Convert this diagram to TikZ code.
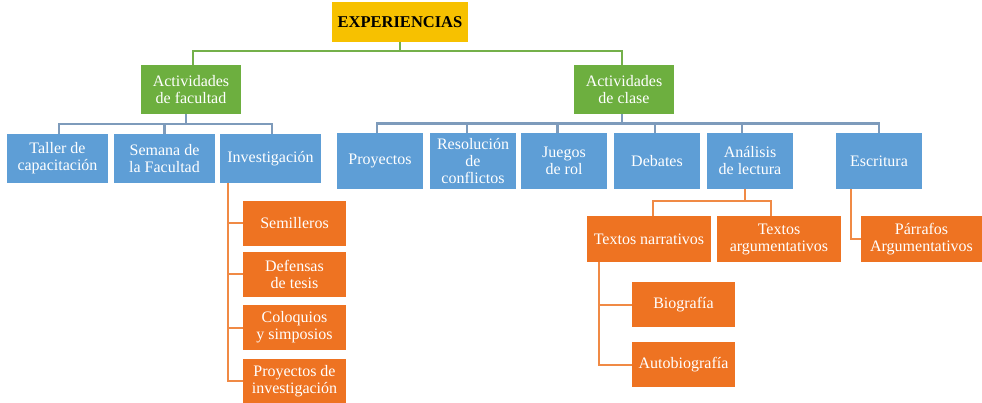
\documentclass[tikz,border=0pt]{standalone}
\usepackage{fontspec}
\setmainfont{Liberation Serif}
\definecolor{cgold}{HTML}{F7C100}
\definecolor{cgreen}{HTML}{6DAF3F}
\definecolor{cblue}{HTML}{5E9ED6}
\definecolor{corange}{HTML}{EE7322}
\definecolor{lgreen}{HTML}{74B04A}
\definecolor{lblue}{HTML}{7E9BBB}
\definecolor{lorange}{HTML}{F08A45}
\begin{document}
\begin{tikzpicture}[x=1pt,y=-1pt,
  bx/.style={rectangle,inner sep=0pt,align=center,text=white,
    font=\fontsize{16}{17}\selectfont},
  gbox/.style={bx,fill=cgreen,minimum width=100pt,minimum height=49pt},
  bbox/.style={bx,fill=cblue},
  obox/.style={bx,fill=corange},
  gline/.style={draw=lgreen,line width=2pt},
  bline/.style={draw=lblue,line width=2.2pt},
  oline/.style={draw=lorange,line width=2pt}]
\useasboundingbox (0,0) rectangle (982,403);
% top
\node[bx,fill=cgold,text=black,minimum width=136pt,minimum height=40pt,
  font=\fontsize{16.5}{17}\selectfont\bfseries] (exp) at (400,22) {EXPERIENCIAS};
\node[gbox] (fac) at (191,89.5) {Actividades\\de facultad};
\node[gbox] (cla) at (624,89.5) {Actividades\\de clase};
\coordinate (gbus) at (400,51);
\draw[gline] (exp.south) -- (gbus);
\draw[gline] (gbus) -| ([xshift=2pt]fac.north);
\draw[gline] (gbus) -| ([xshift=-2pt]cla.north);
% left blue row
\begin{scope}[every node/.style={bbox,minimum width=101pt,minimum height=49pt}]
\node (tal) at (57.5,158.5) {Taller de\\capacitación};
\node (sem) at (164.5,158.5) {Semana de\\la Facultad};
\node (inv) at (270.5,158.5) {Investigación};
\end{scope}
\coordinate (lbus) at (186,124);
\draw[bline] ([xshift=-5pt]fac.south) -- (lbus);
\draw[bline] (lbus) -| ([xshift=1.5pt]tal.north);
\draw[bline] (lbus) -| (sem.north);
\draw[bline] (lbus) -| ([xshift=1.5pt]inv.north);
% right blue row
\begin{scope}[every node/.style={bbox,minimum width=86pt,minimum height=56pt}]
\node (pro) at (380,161) {Proyectos};
\node (res) at (473,161) {Resolución\\de\\conflictos};
\node (jue) at (564,161) {Juegos\\de rol};
\node (deb) at (657,161) {Debates};
\node (ana) at (750,161) {Análisis\\de lectura};
\node (esc) at (879,161) {Escritura};
\end{scope}
\coordinate (rbus) at (622,123.5);
\draw[bline] ([xshift=-2pt]cla.south) -- (rbus);
\draw[bline] (rbus) -| ([xshift=-3pt]pro.north);
\draw[bline] (rbus) -| ([xshift=-6pt]res.north);
\draw[bline] (rbus) -| ([xshift=-6.5pt]jue.north);
\draw[bline] (rbus) -| ([xshift=-2pt]deb.north);
\draw[bline] (rbus) -| ([xshift=-8pt]ana.north);
\draw[bline] (rbus) -| (esc.north);
% investigación children
\begin{scope}[every node/.style={obox,minimum width=103pt,minimum height=45pt}]
\node (semi) at (294.5,223.5) {Semilleros};
\node (def) at (294.5,274.5) {Defensas\\de tesis};
\node (col) at (294.5,327.5) {Coloquios\\y simposios};
\node (pdi) at (294.5,381) {Proyectos de\\investigación};
\end{scope}
\coordinate (ibus) at (228,183);
\draw[oline] (ibus) |- (semi.west);
\draw[oline] (ibus) |- (def.west);
\draw[oline] (ibus) |- (col.west);
\draw[oline] (ibus) |- (pdi.west);
% análisis children
\begin{scope}[every node/.style={obox,minimum width=124pt,minimum height=46pt}]
\node (tn) at (649,239) {Textos narrativos};
\node (ta) at (779,239) {Textos\\argumentativos};
\node[minimum width=121pt] (par) at (921.5,239) {Párrafos\\Argumentativos};
\end{scope}
\coordinate (abus) at (745,201);
\draw[oline] ([xshift=-5pt]ana.south) -- (abus);
\draw[oline] (abus) -| ([xshift=4pt]tn.north);
\draw[oline] (abus) -| ([xshift=-8pt]ta.north);
\coordinate (ebus) at (851,189);
\draw[oline] (ebus) |- (par.west);
% textos narrativos children
\begin{scope}[every node/.style={obox,minimum width=103pt,minimum height=45pt}]
\node (bio) at (683.5,304.5) {Biografía};
\node (aut) at (683.5,364.5) {Autobiografía};
\end{scope}
\coordinate (tbus) at (599,262);
\draw[oline] (tbus) |- (bio.west);
\draw[oline] (tbus) |- (aut.west);
\end{tikzpicture}
\end{document}
